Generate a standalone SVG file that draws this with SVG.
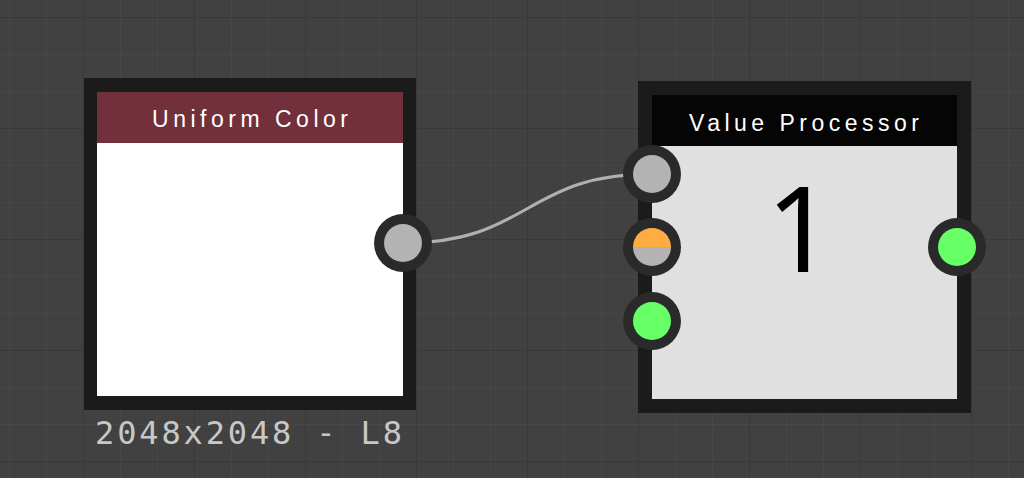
<svg xmlns="http://www.w3.org/2000/svg" width="1024" height="478" viewBox="0 0 1024 478">
  <defs>
    <pattern id="minor" x="9" y="17" width="37" height="37" patternUnits="userSpaceOnUse">
      <path d="M0,0 H37 M0,0 V37" stroke="#474747" stroke-width="2" fill="none"/>
    </pattern>
    <pattern id="major" x="83" y="17" width="111" height="111" patternUnits="userSpaceOnUse">
      <path d="M0,0 H111 M0,0 V111" stroke="#393939" stroke-width="2" fill="none"/>
    </pattern>
  </defs>
  <style>
    .frame { fill: #1b1b1b; }
    .title { font-family: "Liberation Sans", "Noto Sans CJK KR", sans-serif; font-size: 23px; fill: #ffffff; }
    .ring { fill: #2a2a2a; }
    .gray { fill: #b3b3b3; }
    .green { fill: #66ff66; }
    .wire { fill: none; stroke: #b0b0b0; stroke-width: 3; }
  </style>
  <rect width="1024" height="478" fill="#414141"/>
  <rect width="1024" height="478" fill="url(#minor)"/>
  <rect width="1024" height="478" fill="url(#major)"/>

  <g id="connectors">
    <path class="wire" d="M403,243 C530,243 525,174 652,174"/>
  </g>

  <g id="uniform-color">
    <rect class="frame" x="84" y="78" width="332" height="332"/>
    <rect x="97" y="92" width="306" height="51" fill="#722f3c"/>
    <rect x="97" y="143" width="306" height="253" fill="#ffffff"/>
    <text class="title" x="152" y="127" textLength="196" lengthAdjust="spacing">Uniform Color</text>
    <circle class="ring" cx="403" cy="243" r="29"/>
    <circle class="gray" cx="403" cy="243" r="19"/>
    <text x="95" y="444" font-family="DejaVu Sans Mono, monospace" font-size="32" fill="#c8c8c8" textLength="307" lengthAdjust="spacing">2048x2048 - L8</text>
  </g>

  <g id="value-processor">
    <rect class="frame" x="638" y="81" width="333" height="332"/>
    <rect x="652" y="95" width="305" height="51" fill="#050505"/>
    <rect x="652" y="146" width="305" height="253" fill="#e0e0e0"/>
    <text class="title" x="689" y="131" textLength="230" lengthAdjust="spacing">Value Processor</text>
    <text x="800" y="272" text-anchor="middle" font-family="Noto Sans, sans-serif" font-size="118" fill="#000000">1</text>
    <circle class="ring" cx="652" cy="174" r="29"/>
    <circle class="gray" cx="652" cy="174" r="19"/>
    <circle class="ring" cx="652" cy="247" r="29"/>
    <path d="M633,247 A19,19 0 0 1 671,247 Z" fill="#ffad42"/>
    <path d="M633,247 A19,19 0 0 0 671,247 Z" class="gray"/>
    <circle class="ring" cx="652" cy="321" r="29"/>
    <circle class="green" cx="652" cy="321" r="19"/>
    <circle class="ring" cx="957" cy="247" r="29"/>
    <circle class="green" cx="957" cy="247" r="19"/>
  </g>
</svg>
